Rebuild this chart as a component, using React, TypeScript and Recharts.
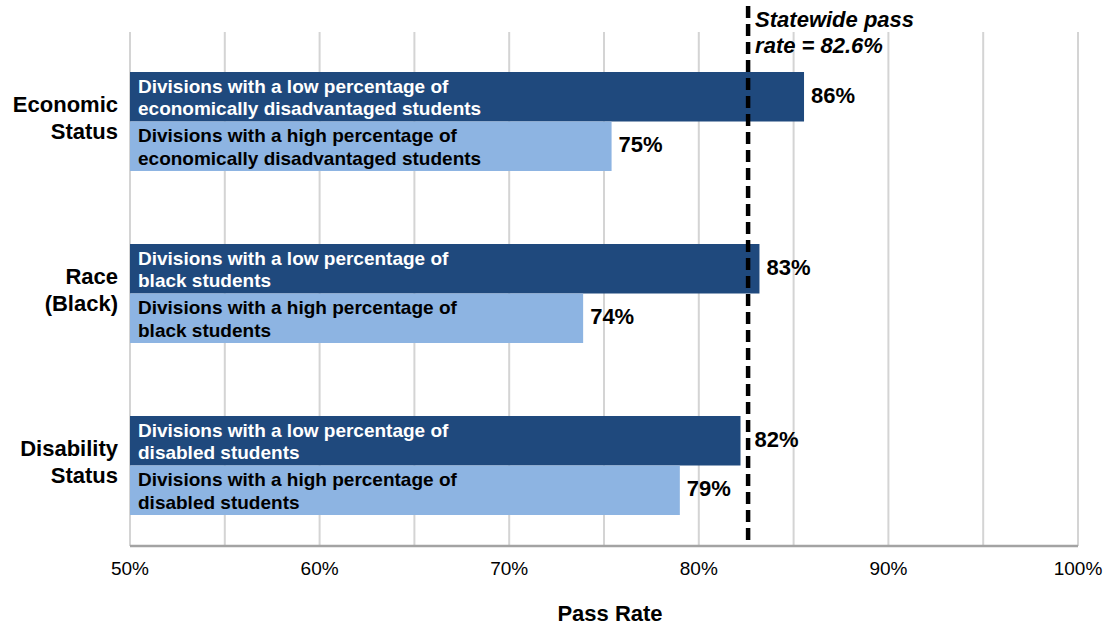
import { BarChart, Bar, XAxis, YAxis, CartesianGrid, ReferenceLine, LabelList, Label } from 'recharts';

// Pass rates by division group
const categories = ['Economic Status', 'Race (Black)', 'Disability Status'];
const categoryLines = [
  ['Economic', 'Status'],
  ['Race', '(Black)'],
  ['Disability', 'Status'],
];
const groups = ['economically disadvantaged students', 'black students', 'disabled students'];
const lowRates = [85.55, 83.2, 82.2];
const highRates = [75.4, 73.9, 79.0];
const statewideRate = 82.6;
const xTicks = [50, 55, 60, 65, 70, 75, 80, 85, 90, 95, 100];

const FONT = '"Liberation Sans", Arial, Helvetica, sans-serif';
const DARK = '#1F497D';
const LIGHT = '#8DB4E2';

const data = categories.map((category, i) => ({
  category,
  low: lowRates[i],
  high: highRates[i],
}));

function CategoryTick({ x, y, index }: any) {
  const lines = categoryLines[index] ?? [];
  return (
    <text textAnchor="end" fontFamily={FONT} fontWeight="bold" fontSize={22} fill="#000">
      <tspan x={x} y={y - 9}>{lines[0]}</tspan>
      <tspan x={x} y={y + 18}>{lines[1]}</tspan>
    </text>
  );
}

const barText = (level: string, color: string) => (props: any) => {
  const { x, y, index } = props;
  return (
    <text fontFamily={FONT} fontWeight="bold" fontSize={19} fill={color}>
      <tspan x={x + 8} y={y + 20.5}>{`Divisions with a ${level} percentage of`}</tspan>
      <tspan x={x + 8} y={y + 43}>{groups[index]}</tspan>
    </text>
  );
};

const valueText = (props: any) => {
  const { x, y, width, height, value } = props;
  // nudge a label past the statewide marker when the bar stops just short of it
  const gap = value < statewideRate && statewideRate - value < 1 ? 14 : 7;
  return (
    <text x={x + width + gap} y={y + height / 2 + 6} fontFamily={FONT} fontWeight="bold" fontSize={22} fill="#000">
      {`${Math.round(value)}%`}
    </text>
  );
};

// dashed marker reaches above the plot to sit beside its caption
const DashedMarker = (props: any) => {
  const top = Math.min(props.y1, props.y2);
  const bottom = Math.max(props.y1, props.y2);
  return (
    <line x1={props.x1} x2={props.x2} y1={top - 26} y2={bottom} stroke="#000" strokeWidth={4.5} strokeDasharray="12 6" />
  );
};

const StatewideCaption = (props: any) => {
  const { viewBox } = props;
  const x = viewBox.x + 7;
  const top = viewBox.y;
  return (
    <text fontFamily={FONT} fontWeight="bold" fontStyle="italic" fontSize={22} fill="#000">
      <tspan x={x} y={top - 5}>Statewide pass</tspan>
      <tspan x={x} y={top + 21}>{`rate = ${statewideRate}%`}</tspan>
    </text>
  );
};

const AxisTitle = (props: any) => {
  const { viewBox } = props;
  return (
    <text
      x={viewBox.x + viewBox.width / 2 + 6}
      y={viewBox.y + 75}
      textAnchor="middle"
      fontFamily={FONT}
      fontWeight="bold"
      fontSize={22}
      fill="#000"
    >
      Pass Rate
    </text>
  );
};

export default function App() {
  return (
    <div style={{ position: 'absolute', left: 0, top: 0, width: 1108, height: 627, background: '#fff', fontFamily: FONT }}>
      <BarChart
        width={1108}
        height={627}
        data={data}
        layout="vertical"
        margin={{ top: 32, right: 30, left: 0, bottom: 0 }}
        barGap={0}
        barSize={49.5}
      >
        <CartesianGrid horizontal={false} stroke="#d4d4d4" strokeWidth={2} />
        <XAxis
          type="number"
          domain={[50, 100]}
          ticks={xTicks}
          interval={0}
          height={81}
          tickLine={false}
          tickMargin={10}
          axisLine={{ stroke: '#a3a3a3', strokeWidth: 2.5 }}
          tick={{ fontSize: 19, fill: '#000', fontFamily: FONT }}
          tickFormatter={(v: number) => (v % 10 === 0 ? `${v}%` : '')}
        >
          <Label content={AxisTitle} />
        </XAxis>
        <YAxis
          type="category"
          dataKey="category"
          width={130}
          axisLine={false}
          tickLine={false}
          tickSize={0}
          tickMargin={12}
          padding={{ top: 3, bottom: -5 }}
          tick={<CategoryTick />}
        />
        <Bar dataKey="low" fill={DARK} isAnimationActive={false}>
          <LabelList dataKey="low" content={barText('low', '#fff')} />
          <LabelList dataKey="low" content={valueText} />
        </Bar>
        <Bar dataKey="high" fill={LIGHT} isAnimationActive={false}>
          <LabelList dataKey="high" content={barText('high', '#000')} />
          <LabelList dataKey="high" content={valueText} />
        </Bar>
        <ReferenceLine x={statewideRate} shape={DashedMarker}>
          <Label content={StatewideCaption} />
        </ReferenceLine>
      </BarChart>
    </div>
  );
}
